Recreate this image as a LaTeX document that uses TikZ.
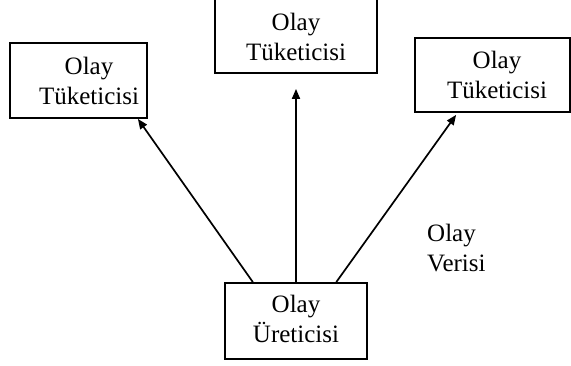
\documentclass[tikz,border=0pt]{standalone}
\usepackage{fontspec}
\setmainfont{Liberation Serif}
\usetikzlibrary{calc,arrows.meta}
\begin{document}
\begin{tikzpicture}[x=1pt,y=-1pt,
  box/.style={draw=black,line width=1.8pt,inner sep=0pt},
  lbl/.style={align=center,inner sep=0pt,font=\fontsize{25}{30}\selectfont},
  flow/.style={line width=1.7pt,-{Triangle[length=10pt,width=8pt]}}]
\useasboundingbox (0,0) rectangle (571,365);
% event consumers
\node[box,minimum width=137pt,minimum height=75pt] (c1) at (78.5,80.5) {};
\node[lbl] (t1) at (89,81) {Olay\\Tüketicisi};
\node[box,minimum width=162pt,minimum height=74pt] (c2) at (296,36) {};
\node[lbl] (t2) at (296,37) {Olay\\Tüketicisi};
\node[box,minimum width=155pt,minimum height=74pt] (c3) at (492.5,75) {};
\node[lbl] (t3) at (497,75) {Olay\\Tüketicisi};
% event producer
\node[box,minimum width=142pt,minimum height=76pt] (p) at (296,321) {};
\node[lbl] (tp) at (296,319) {Olay\\Üreticisi};
% event data label
\node[lbl,align=left,anchor=west] (d) at (427,248) {Olay\\Verisi};
% connectors
\coordinate (s1) at ($(p.north west)!0.2!(p.north east)$);
\coordinate (s2) at (p.north);
\coordinate (s3) at ($(p.north west)!0.78!(p.north east)$);
\coordinate (e1) at ($(c1.south east)+(-10pt,0)$);
\coordinate (e2) at ([yshift=-15pt]c2.south);
\coordinate (e3) at ($(c3.south west)+(42pt,-2pt)$);
\draw[flow] (s1) -- (e1);
\draw[flow] (s2) -- (e2);
\draw[flow] (s3) -- (e3);
\end{tikzpicture}
\end{document}
